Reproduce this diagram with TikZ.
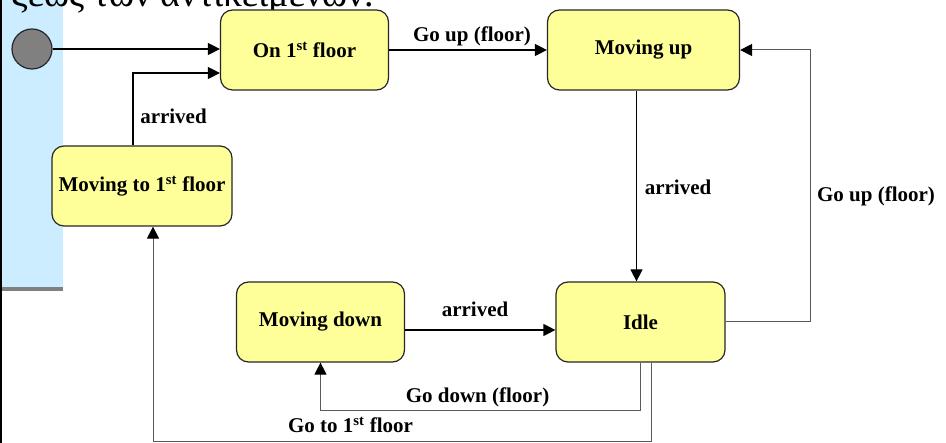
\documentclass[tikz,border=0pt]{standalone}
\usepackage{fontspec}
\setmainfont{Liberation Serif}
\usetikzlibrary{arrows.meta}

\definecolor{statefill}{HTML}{FFFF99}
\definecolor{panelblue}{HTML}{CCECFF}

\begin{document}
\begin{tikzpicture}[x=1pt, y=-1pt,
  every node/.style={font=\fontsize{21}{24}\selectfont\bfseries},
  state/.style={draw=black!85, line width=1.2pt, fill=statefill, rounded corners=12pt,
    inner sep=0pt, minimum height=80pt},
  trans/.style={line width=1.2pt, -{Triangle[length=12pt, width=12pt]}},
  loop/.style={line width=1pt, draw=black!65, -{Triangle[length=12pt, width=12pt, black]}}]

\useasboundingbox (0,0) rectangle (946,443);
\clip (0,0) rectangle (946,443);

% ---- slide background ----
\fill[panelblue] (2,0) rectangle (63,289);
\fill[black!50] (2,287) rectangle (63,291);
\fill[black] (0,0) rectangle (2,443);
\node[anchor=base west, font=\fontsize{38}{42}\selectfont] (title) at (8,7) {ξεως των αντικειμένων.};

% ---- states ----
\node[circle, draw=black!85, line width=1.2pt, fill=black!50, minimum size=40pt, inner sep=0pt] (init) at (32,49) {};
\node[state, minimum width=168pt] (on1) at (304.5,50) {On 1\textsuperscript{st} floor};
\node[state, minimum width=192pt] (up) at (643.5,50) {Moving up};
\node[state, minimum width=180pt] (mv1) at (142,186) {Moving to 1\textsuperscript{st} floor};
\node[state, minimum width=168pt] (down) at (320.5,322) {Moving down};
\node[state, minimum width=169pt] (idle) at (640.5,322) {Idle};

% ---- transitions ----
\draw[trans] (init) -- (init -| on1.west);
\draw[trans] ([xshift=-9pt]mv1.north) |- ([yshift=-23pt]on1.west);
\draw[trans] (on1) -- (up);
\draw[trans] ([xshift=-7pt]up.south) -- ([xshift=-4pt]idle.north);
\draw[trans] ([yshift=-8pt]down.east) -- ([yshift=-8pt]idle.west);
\draw[loop] (idle.east) -- ++(85,0) |- (up.east);
\draw[loop] (idle.south) -- ++(0,48) -| (down.south);
\draw[loop] ([xshift=11pt]idle.south) -- ++(0,79) -| ([xshift=11pt]mv1.south);

% ---- labels ----
\node (l1) at (173.5,116) {arrived};
\node (l2) at (472,36) {Go up (floor)};
\node (l3) at (678,187) {arrived};
\node (l4) at (876,196) {Go up (floor)};
\node (l5) at (475,309) {arrived};
\node (l6) at (477.5,397) {Go down (floor)};
\node (l7) at (350.5,425) {Go to 1\textsuperscript{st} floor};

\end{tikzpicture}
\end{document}
